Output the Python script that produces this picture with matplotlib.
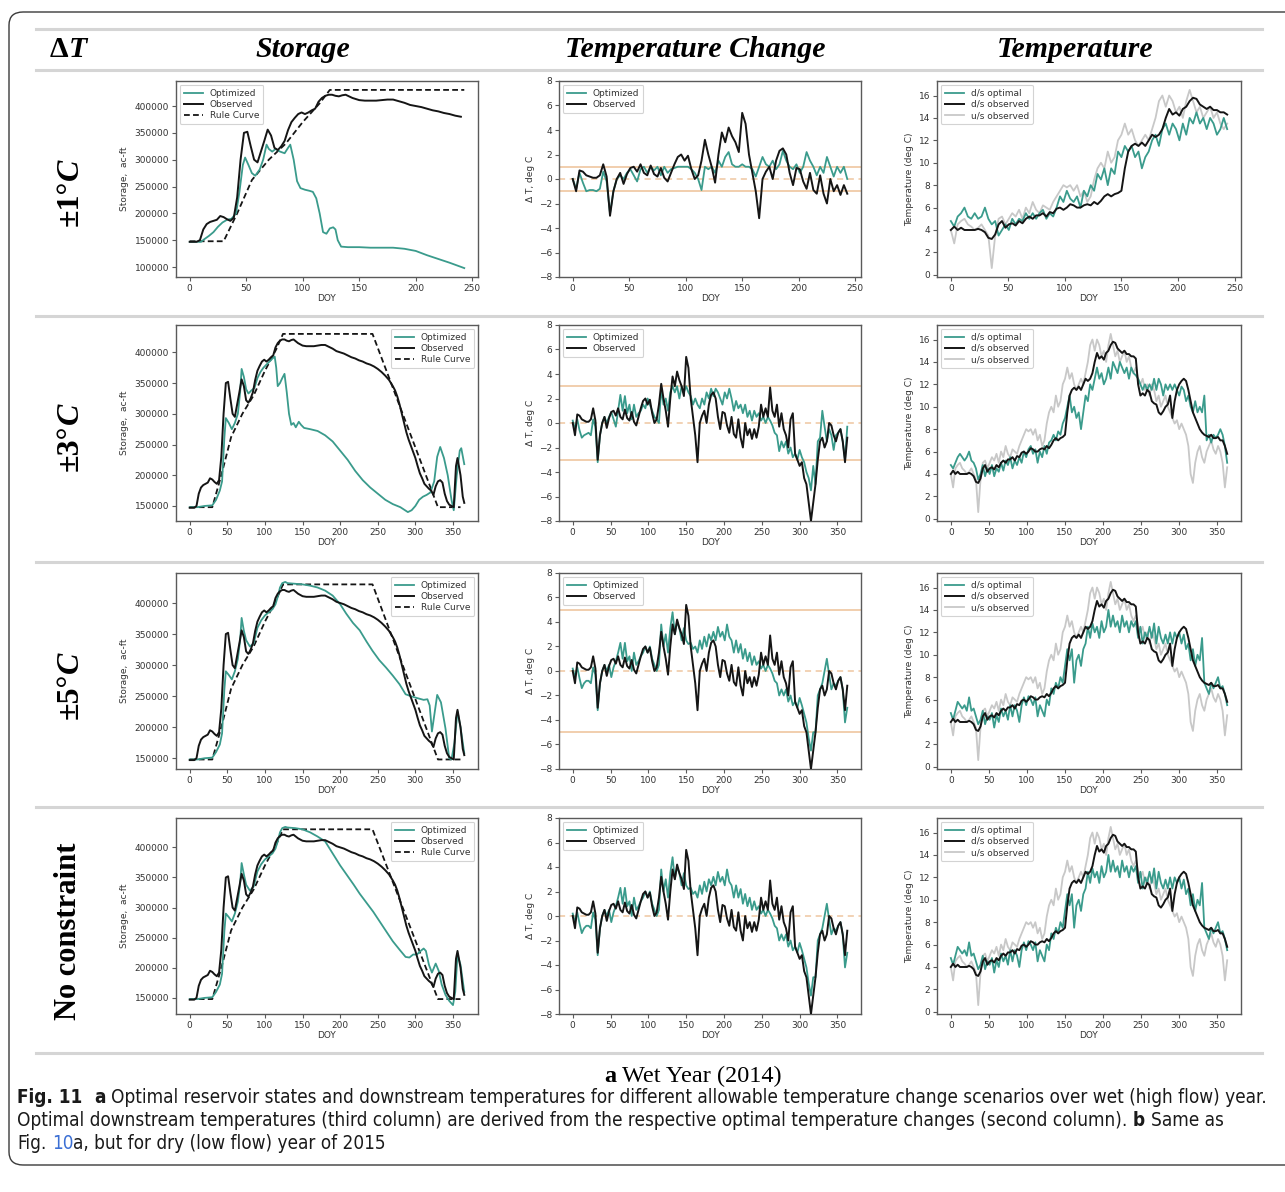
import os
import glob
import numpy as np
import matplotlib
matplotlib.use("Agg")
import matplotlib.pyplot as plt
from matplotlib.lines import Line2D
from matplotlib.patches import FancyBboxPatch
from matplotlib import font_manager as fm

# ============================ DATA ============================
# Noisy daily series are read off the picture every 3rd DOY (index * 3).
dT_observed = [
    0.0, -1.0, 0.7, 0.6, 0.3, 0.2, 0.1, 0.1, 0.3, 1.2,
    0.2, -3.0, -1.0, 0.0, 0.5, -0.4, 0.4, 0.9, 1.0, 0.6,
    1.2, 0.5, 0.3, 1.1, 0.4, 0.2, 0.9, 0.1, -0.2, 0.5,
    1.2, 1.8, 2.0, 1.5, 1.9, 0.8, 0.0, 0.3, 1.5, 3.2,
    2.0, 1.0, -0.3, 2.0, 3.8, 3.0, 4.2, 3.5, 3.0, 2.2,
    5.4, 4.5, 2.0, 0.5, -1.0, -3.2, 0.0, 0.6, 1.0, 0.0,
    1.5, 2.3, 2.5, 2.0, 0.5, -0.5, 0.9, 0.8, -0.2, -0.8,
    0.5, -0.9, -1.2, 0.3, -1.2, -2.0, 0.0, -1.0, -0.5, -1.3,
    -0.5, -1.2, -0.3, 1.5, 0.5, 1.2, 0.5, 2.9, 1.0, 0.5,
    1.5, -0.3, 0.8, -0.5, -1.0, -2.0, 0.3, 0.8, -2.5, -3.0,
    -3.5, -3.2, -4.5, -5.0, -6.5, -8.0, -6.5, -5.0, -3.0, -1.5,
    -1.2, -2.0, -1.5, 0.0, -0.2, -1.0, -1.5, -0.8, -0.5, -1.5,
    -3.2, -1.2]

dT_opt_pm1 = [
    0.0, -0.8, 0.5, -0.3, -1.0, -0.9, -0.9, -1.0, -0.8, 0.6,
    -0.2, -2.8, -1.0, 0.0, 0.3, 0.0, 0.5, 0.8, 0.3, -0.2,
    0.8, 1.0, 0.5, 1.0, 0.7, 1.0, 0.3, 1.0, 0.5, 0.8,
    0.9, 1.0, 1.0, 1.0, 1.0, 0.8, 0.5, 0.0, -0.9, 1.0,
    0.8, 1.0, 0.5, 1.5, 1.0, 1.8, 2.2, 1.2, 1.0, 1.0,
    1.2, 1.0, 1.0, 0.8, 0.2, 1.0, 1.8, 1.2, 1.0, 1.5,
    0.8, 1.2, 2.3, 1.5, 1.0, 0.8, 1.2, 0.5, 1.0, 2.2,
    1.5, 1.0, 0.3, 1.0, 0.5, 1.8, 1.0, 0.2, 1.0, 0.5,
    1.0, 0.0]

dT_opt_pm3 = [
    0.2, -0.5, 0.3, -0.6, -1.2, -1.0, -0.9, -0.8, -1.0, 0.3,
    -0.3, -3.2, -1.0, 0.0, 0.5, 0.0, 0.5, 0.9, 0.3, -0.3,
    1.0, 2.3, 1.0, 2.2, 0.8, 1.5, 0.3, 1.5, 0.5, 0.8,
    1.0, 1.5, 1.2, 2.0, 1.5, 1.0, 0.5, 0.3, 0.0, 2.8,
    1.5, 2.0, 1.0, 2.5, 3.0, 2.5, 3.0, 2.0, 3.0, 2.5,
    3.0, 2.5, 2.2, 1.5, 2.0, 1.5, 1.2, 2.0, 1.5, 2.5,
    2.0, 2.8, 2.2, 2.8, 2.5, 2.0, 1.5, 2.5, 2.0, 2.8,
    2.0, 1.0, 1.8, 1.2, 1.5, 0.8, 1.5, 0.5, 1.0, 0.2,
    1.0, 0.5, 0.8, 0.2, 0.5, 0.0, 0.5, 0.2, -0.2, -0.8,
    -1.0, -2.3, -1.5, -2.0, -1.5, -2.5, -2.0, -2.8, -2.5, -3.0,
    -2.2, -2.8, -3.2, -4.0, -4.5, -5.5, -3.5, -5.0, -1.5, -1.2,
    1.0, -0.3, -1.5, -0.5, -1.0, -2.2, -1.0, -0.8, -0.5, -1.5,
    -3.0, -0.3]

dT_opt_pm5 = [
    0.2, -0.5, 0.3, -0.6, -1.4, -1.0, -0.8, -0.8, -1.0, 0.3,
    -0.3, -3.2, -1.0, 0.0, 0.5, 0.0, 0.5, -0.5, 0.3, 0.8,
    1.5, 2.3, 1.0, 2.3, 0.8, 1.2, 0.0, 1.5, 0.5, 0.8,
    1.2, 1.5, 2.0, 1.5, 2.0, 1.0, 0.5, 0.0, 0.5, 3.8,
    2.0, 3.0, 1.5, 3.5, 4.8, 3.0, 4.0, 3.5, 2.5, 3.5,
    2.5, 2.2, 2.3, 1.8, 2.0, 1.5, 2.5, 1.8, 2.8, 2.0,
    3.0, 2.5, 3.2, 2.5, 3.6, 2.8, 3.2, 2.5, 3.8, 2.8,
    2.5, 1.5, 2.5, 1.5, 2.2, 1.0, 1.8, 0.8, 1.5, 0.5,
    1.2, 0.5, 0.8, 0.2, 0.5, 0.0, 0.5, 0.2, -0.2, -0.8,
    -1.0, -2.0, -1.5, -2.0, -1.5, -2.5, -2.0, -2.8, -2.5, -3.0,
    -2.2, -2.8, -3.5, -4.2, -5.5, -6.5, -5.0, -5.0, -2.0, -1.5,
    -1.0, 0.0, 1.0, -0.3, -1.5, -1.0, -1.2, -0.8, -0.5, -1.5,
    -4.2, -3.0]
dT_opt_none = dT_opt_pm5

T_ds_observed = [
    4.0, 4.3, 4.0, 4.2, 4.0, 4.0, 4.0, 4.0, 4.1, 4.0,
    3.8, 3.3, 3.2, 3.6, 4.5, 4.8, 4.2, 4.5, 4.6, 4.4,
    4.8, 4.6, 5.0, 5.2, 5.0, 5.3, 5.3, 5.5, 5.2, 5.6,
    5.5, 5.9, 6.0, 5.8, 6.0, 6.3, 6.2, 6.0, 6.0, 6.2,
    6.3, 6.2, 6.5, 6.3, 6.6, 7.0, 7.2, 7.0, 7.2, 7.3,
    7.5, 9.5, 11.0, 11.5, 11.7, 11.5, 11.8, 11.5, 12.0, 12.5,
    12.3, 12.5, 13.0, 14.0, 14.8, 14.3, 14.5, 14.2, 14.8, 15.0,
    15.5, 15.8, 15.7, 15.2, 15.0, 14.8, 15.0, 14.7, 14.7, 14.5,
    14.5, 14.3, 12.0, 11.0, 11.2, 11.0, 11.5, 11.3, 10.5, 10.3,
    10.2, 9.5, 9.3, 9.6, 10.0, 10.2, 11.0, 9.0, 10.5, 11.5,
    12.0, 12.3, 12.5, 12.3, 11.5, 10.5, 9.5, 9.0, 8.5, 8.0,
    7.7, 7.5, 7.4, 7.3, 7.5, 7.2, 7.2, 7.3, 7.0, 7.0,
    6.5, 5.8]

T_us_observed = [
    4.0, 2.8, 4.5, 4.8, 5.0, 4.5, 4.3, 4.0, 4.2, 4.5,
    4.0, 3.5, 0.6, 3.5, 5.0, 5.2, 4.5, 5.0, 5.5, 5.2,
    5.8, 5.0, 6.0, 5.5, 6.5, 5.8, 5.5, 6.2, 6.0, 5.8,
    6.5, 7.0, 7.5, 8.0, 7.8, 8.0, 7.5, 8.0, 7.0, 7.5,
    6.5, 7.0, 8.5, 9.5, 10.0, 9.5, 11.0, 10.0, 10.5, 12.0,
    12.5, 13.5, 12.5, 13.0, 12.0, 11.5, 12.0, 12.5, 12.0, 13.0,
    14.0, 15.5, 16.0, 15.0, 16.0, 15.5, 14.5, 15.0, 14.0, 15.5,
    16.5, 15.5, 14.5, 15.0, 14.0, 14.5, 15.0, 14.0, 14.5, 13.5,
    13.0, 13.5, 12.5, 12.0, 12.5, 11.5, 12.0, 11.0, 12.0, 11.5,
    10.5, 11.0, 10.0, 10.5, 11.0, 10.0, 9.5, 9.0, 8.5, 8.8,
    8.0, 8.5, 8.0, 7.5, 6.5, 4.0, 3.2, 5.0, 6.0, 6.5,
    5.5, 5.0, 6.0, 6.5, 7.0, 6.2, 5.8, 6.5, 6.0, 5.0,
    2.8, 4.6]

T_opt_pm1 = [
    4.8, 4.3, 5.2, 5.5, 6.0, 5.2, 5.0, 5.5, 5.0, 5.2,
    6.0, 5.0, 4.5, 4.8, 3.5, 4.0, 4.5, 4.0, 5.0, 4.5,
    5.0, 4.8, 5.5, 5.0, 5.5, 5.0, 5.5, 5.8, 5.0, 5.5,
    5.2, 6.0, 7.0, 6.5, 7.5, 6.8, 6.5, 7.0, 6.0, 7.5,
    7.0, 8.0, 7.5, 9.0, 8.5, 9.5, 8.0, 9.5, 9.0, 11.0,
    10.5, 11.5, 11.0, 11.5, 10.5, 11.0, 9.5, 10.5, 11.0, 12.0,
    12.5, 11.5, 13.0, 13.5, 12.5, 13.5, 13.0, 12.0, 13.5, 12.5,
    14.0, 13.5, 14.5, 13.5, 14.0, 13.0, 14.0, 13.5, 12.5, 13.0,
    14.0, 13.0]

T_opt_pm3 = [
    4.8, 4.5, 5.0, 5.5, 5.8, 5.5, 5.2, 5.5, 6.0, 5.2,
    5.0, 4.5, 3.5, 4.0, 4.8, 3.8, 4.5, 4.0, 4.8, 3.8,
    4.5, 4.2, 5.0, 4.3, 5.2, 4.8, 5.5, 4.5, 5.2, 4.8,
    5.5, 5.0, 6.0, 5.5, 6.2, 6.5, 5.8, 6.2, 5.0, 6.0,
    5.5, 6.5, 5.8, 6.8, 7.0, 7.5, 7.0, 7.8, 7.5, 8.5,
    9.0, 10.0, 11.0, 9.5, 10.0, 9.0, 9.5, 8.0, 9.5, 11.0,
    10.5, 12.0, 11.5, 12.5, 13.5, 12.5, 13.0, 12.0, 12.5, 13.5,
    12.5, 14.0, 13.5, 13.0, 14.0, 13.5, 13.0, 13.5, 12.5, 13.5,
    13.0, 12.8, 12.5, 12.0, 11.5, 12.0, 11.5, 12.0, 11.5, 12.5,
    11.5, 12.5, 12.0, 11.0, 12.0, 11.5, 12.0, 11.5, 12.0, 11.5,
    11.0, 11.8, 11.5, 10.5, 11.0, 10.0, 9.5, 10.5, 9.5, 10.0,
    9.5, 11.0, 7.0, 7.5, 6.8, 7.5, 7.2, 7.5, 8.0, 7.5,
    6.5, 5.0]

T_opt_pm5 = [
    4.8, 4.2, 5.0, 5.8, 5.5, 5.2, 5.5, 5.0, 6.2, 5.0,
    5.2, 4.5, 3.8, 4.2, 5.0, 3.8, 4.5, 4.2, 4.8, 3.5,
    4.6, 4.0, 5.2, 4.5, 5.0, 4.2, 5.5, 4.5, 5.5, 5.0,
    4.0, 5.5, 6.2, 5.5, 6.3, 6.0, 5.5, 6.2, 4.5, 5.5,
    5.0, 4.5, 6.0, 5.5, 7.0, 6.5, 7.5, 7.0, 8.0, 7.5,
    9.0, 10.5, 9.5, 10.5, 7.5, 9.5, 10.0, 9.0, 10.5, 11.0,
    12.5, 11.5, 12.8, 12.0, 12.5, 11.5, 13.0, 12.0, 12.5, 14.0,
    12.5, 13.5, 12.5, 13.0, 12.0, 13.5, 12.5, 13.0, 12.0, 13.0,
    12.5, 13.0, 11.5, 12.5, 11.0, 12.0, 11.5, 12.5, 11.5, 12.8,
    11.0, 12.5, 11.5, 11.0, 11.8, 11.0, 12.0, 11.0, 12.0, 11.5,
    12.0, 11.0, 11.8, 10.5, 11.0, 9.5, 10.5, 9.0, 10.0, 9.5,
    11.5, 7.5, 7.0, 6.5, 7.5, 7.0, 7.5, 8.0, 7.0, 7.2,
    6.5, 5.5]
T_opt_none = T_opt_pm5

# Storage series (smooth): DOY keypoints and values (ac-ft)
stor_obs_doy = [0, 6, 9, 12, 15, 18, 21, 24, 27, 30, 33, 36, 39, 42, 45, 48, 51, 54, 57, 60,
                63, 66, 69, 72, 75, 78, 81, 84, 87, 90, 93, 96, 99, 102, 105, 108, 111, 114, 117, 120,
                123, 126, 129, 132, 135, 138, 141, 144, 147, 150, 155, 160, 165, 170, 175, 180, 185, 190, 195, 200,
                205, 210, 215, 220, 225, 230, 235, 240, 245, 250, 255, 260, 265, 270, 273, 276, 279, 282, 285, 288,
                291, 294, 297, 300, 303, 306, 309, 312, 315, 318, 321, 324, 327, 330, 333, 336, 339, 342, 345, 348,
                351, 354, 356, 360, 363, 365]
stor_obs_val = [147000, 147000, 150000, 170000, 180000, 184000, 186000, 188000, 195000, 193000,
                189000, 186000, 192000, 230000, 300000, 350000, 352000, 325000, 300000, 295000,
                315000, 335000, 356000, 345000, 322000, 318000, 325000, 335000, 355000, 370000,
                378000, 385000, 388000, 385000, 388000, 392000, 395000, 408000, 415000, 419000,
                421000, 421000, 419000, 418000, 420000, 421000, 418000, 415000, 413000, 411000,
                410000, 410000, 410000, 411000, 412000, 412000, 409000, 406000, 402000, 400000,
                398000, 395000, 392000, 390000, 387000, 385000, 382000, 380000, 377000, 373000,
                368000, 362000, 355000, 345000, 338000, 328000, 315000, 300000, 285000, 270000,
                258000, 248000, 238000, 228000, 215000, 203000, 195000, 186000, 182000, 178000,
                175000, 168000, 182000, 190000, 192000, 188000, 170000, 158000, 152000, 150000,
                148000, 215000, 228000, 200000, 165000, 155000]

rule_doy = [0, 30, 42, 55, 70, 85, 100, 115, 124, 243, 330, 360]
rule_val = [148000, 148000, 200000, 262000, 300000, 330000, 370000, 405000, 430000, 430000, 148000, 148000]

stor_opt_pm1_doy = [0, 10, 13, 17, 21, 25, 29, 33, 37, 41, 44, 47, 49, 52, 55, 58, 62, 65, 68, 70,
                    73, 76, 80, 84, 87, 89, 92, 95, 98, 102, 106, 109, 112, 115, 118, 121, 124, 127, 129, 131,
                    134, 140, 150, 160, 170, 180, 190, 200, 210, 220, 230, 243]
stor_opt_pm1_val = [147000, 147000, 152000, 158000, 165000, 175000, 183000, 188000, 190000, 200000,
                    240000, 290000, 304000, 290000, 275000, 270000, 282000, 300000, 328000, 320000,
                    315000, 320000, 315000, 312000, 322000, 328000, 300000, 260000, 247000, 244000,
                    242000, 240000, 228000, 200000, 165000, 162000, 172000, 174000, 170000, 150000,
                    138000, 137000, 137000, 136000, 136000, 136000, 134000, 130000, 122000, 115000,
                    108000, 98000]

stor_opt_pm3_doy = [0, 10, 20, 30, 35, 40, 43, 46, 48, 52, 56, 60, 64, 67, 69, 72, 75, 78, 82, 86,
                    90, 94, 98, 102, 106, 110, 113, 115, 117, 120, 123, 126, 129, 132, 135, 138, 141, 145, 148, 152,
                    160, 170, 180, 190, 200, 210, 220, 230, 240, 250, 260, 270, 280, 290, 295, 300, 305, 310, 315, 320,
                    325, 329, 333, 338, 343, 348, 351, 355, 359, 361, 365]
stor_opt_pm3_val = [148000, 148000, 150000, 151000, 160000, 175000, 190000, 260000, 293000, 285000,
                    275000, 285000, 300000, 335000, 373000, 360000, 340000, 333000, 338000, 342000,
                    358000, 368000, 375000, 380000, 385000, 390000, 393000, 375000, 345000, 350000,
                    358000, 365000, 335000, 300000, 282000, 285000, 278000, 287000, 282000, 277000,
                    275000, 272000, 265000, 255000, 240000, 225000, 207000, 192000, 180000, 170000,
                    160000, 153000, 148000, 140000, 143000, 150000, 160000, 165000, 168000, 172000,
                    190000, 230000, 246000, 228000, 200000, 160000, 143000, 200000, 240000, 244000,
                    218000]

stor_opt_pm5_doy = [0, 10, 20, 30, 35, 40, 43, 46, 48, 52, 56, 60, 64, 67, 69, 72, 75, 80, 85, 90,
                    95, 100, 105, 110, 114, 117, 120, 123, 127, 130, 140, 150, 160, 170, 180, 190, 195, 200, 208, 217,
                    226, 235, 243, 252, 261, 270, 279, 287, 294, 302, 311, 316, 319, 322, 329, 334, 340, 345, 348, 352,
                    356, 360, 365]
stor_opt_pm5_val = [148000, 148000, 150000, 151000, 160000, 172000, 190000, 260000, 290000, 284000,
                    277000, 290000, 310000, 340000, 376000, 355000, 340000, 330000, 335000, 360000,
                    372000, 380000, 385000, 390000, 398000, 410000, 425000, 432000, 434000, 432000,
                    431000, 430000, 428000, 425000, 420000, 412000, 405000, 398000, 383000, 368000,
                    356000, 338000, 323000, 308000, 296000, 283000, 269000, 253000, 250000, 247000,
                    244000, 245000, 235000, 193000, 252000, 240000, 198000, 150000, 148000, 175000,
                    225000, 200000, 158000]

stor_opt_none_doy = [0, 10, 20, 30, 35, 40, 43, 46, 48, 52, 56, 60, 64, 67, 69, 72, 75, 80, 85, 90,
                     95, 100, 105, 110, 114, 117, 120, 123, 127, 130, 140, 150, 160, 170, 180, 191, 200, 209, 218, 226,
                     235, 244, 253, 262, 270, 279, 287, 292, 297, 302, 307, 311, 314, 318, 322, 327, 331, 335, 340, 345,
                     350, 353, 356, 360, 365]
stor_opt_none_val = [148000, 148000, 150000, 151000, 160000, 172000, 190000, 260000, 290000, 284000,
                     277000, 290000, 310000, 340000, 374000, 355000, 338000, 328000, 335000, 360000,
                     372000, 380000, 385000, 390000, 398000, 410000, 425000, 432000, 434000, 433000,
                     432000, 430000, 425000, 418000, 410000, 388000, 370000, 354000, 338000, 323000,
                     308000, 293000, 276000, 259000, 244000, 230000, 218000, 217000, 222000, 222000,
                     228000, 232000, 228000, 205000, 192000, 207000, 195000, 172000, 155000, 145000,
                     138000, 160000, 222000, 205000, 160000]

row_limits = [1, 3, 5, None]          # allowable temperature change (deg C)
row_last_doy = [243, 365, 365, 365]
row_labels = ["±1°", "±3°", "±5°", "No constraint"]
col_titles = ["Storage", "Temperature Change", "Temperature"]
storage_legend = ["Optimized", "Observed", "Rule Curve"]
dT_legend = ["Optimized", "Observed"]
temp_legend = ["d/s optimal", "d/s observed", "u/s observed"]

stor_opt_rows = [(stor_opt_pm1_doy, stor_opt_pm1_val), (stor_opt_pm3_doy, stor_opt_pm3_val),
                 (stor_opt_pm5_doy, stor_opt_pm5_val), (stor_opt_none_doy, stor_opt_none_val)]
dT_opt_rows = [dT_opt_pm1, dT_opt_pm3, dT_opt_pm5, dT_opt_none]
T_opt_rows = [T_opt_pm1, T_opt_pm3, T_opt_pm5, T_opt_none]

# ============================ STYLE ============================
W, H = 1285, 1192
TEAL = "#3a9b8c"
BLK = "#151515"
USG = "#c8c8c8"
CONS = "#efc6a0"
SEP = "#d5d5d5"

plt.rcParams.update({
    "font.family": ["DejaVu Sans"],
    "axes.edgecolor": "#5a5a5a",
    "axes.linewidth": 1.0,
    "xtick.color": "#5a5a5a", "ytick.color": "#5a5a5a",
    "xtick.labelcolor": "#333333", "ytick.labelcolor": "#333333",
    "xtick.labelsize": 6.5, "ytick.labelsize": 6.5,
    "xtick.major.size": 3, "ytick.major.size": 3,
    "axes.labelsize": 6.5, "axes.labelcolor": "#333333",
})

fig = plt.figure(figsize=(W / 100, H / 100), dpi=100)
R = fig.canvas.get_renderer()


def px_axes(x0, y0, x1, y1):
    return fig.add_axes([x0 / W, 1 - y1 / H, (x1 - x0) / W, (y1 - y0) / H])


def hline_px(y, x0=36, x1=1262, color=SEP, lw=2.2):
    fig.add_artist(Line2D([x0 / W, x1 / W], [1 - y / H, 1 - y / H],
                          transform=fig.transFigure, color=color, lw=lw))


def font_ok(name):
    try:
        p = fm.findfont(fm.FontProperties(family=name), fallback_to_default=False)
        return name.split()[0].lower() in os.path.basename(p).lower()
    except Exception:
        return False


def find_font_file(names):
    known = [f.fname for f in fm.fontManager.ttflist]
    for d in ["/usr/share/fonts", "/usr/local/share/fonts", os.path.expanduser("~/.fonts")]:
        known += glob.glob(os.path.join(d, "**", "*.ttf"), recursive=True)
    for n in names:
        for k in known:
            if os.path.basename(k).lower() == n.lower():
                return k
    return None


SERIF = "Liberation Serif" if font_ok("Liberation Serif") else "DejaVu Serif"
narrow_reg = find_font_file(["LiberationSansNarrow-Regular.ttf", "DejaVuSansCondensed.ttf",
                             "RobotoCondensed-Regular.ttf", "OpenSans_Condensed-Regular.ttf"])
narrow_bold = find_font_file(["LiberationSansNarrow-Bold.ttf", "DejaVuSansCondensed-Bold.ttf",
                              "RobotoCondensed-Bold.ttf", "OpenSans_Condensed-Bold.ttf"])


def cap_fp(bold, size):
    f = narrow_bold if bold else narrow_reg
    if f:
        return fm.FontProperties(fname=f, size=size)
    return fm.FontProperties(family="DejaVu Sans", weight="bold" if bold else "normal", size=size)


def tw(t):
    return t.get_window_extent(renderer=R).width


def runs(x, y, parts, base, center=False, measure=False):
    """parts: list of (string, kwargs) or ' ' (space). x,y in px from top-left (baseline)."""
    items = []
    cx = 0.0
    last_kw = {}
    for p in parts:
        if p == " ":
            kw = {**base, **last_kw}
            a = fig.text(0, 0, "a a", **kw); b = fig.text(0, 0, "aa", **kw)
            cx += tw(a) - tw(b)
            a.remove(); b.remove()
            continue
        s, kw = p
        last_kw = kw
        t = fig.text(0, 1 - y / H, s, ha="left", va="baseline", **{**base, **kw})
        items.append((t, cx))
        cx += tw(t)
    if measure:
        for t, _ in items:
            t.remove()
        return cx
    x0 = x - cx / 2 if center else x
    for t, off in items:
        t.set_x((x0 + off) / W)
    return cx


def vruns(xc, ybot, parts, base):
    """Rotated (reading bottom-to-top) runs; xc center x px, ybot bottom y px."""
    y = ybot
    for s, kw in parts:
        t = fig.text(xc / W, 1 - y / H, s, rotation=90, ha="center", va="bottom", **{**base, **kw})
        y -= t.get_window_extent(renderer=R).height


# ============================ FRAME & TITLES ============================
box = FancyBboxPatch((9 / W, 1 - 1165 / H), (1300 - 9) / W, (1165 - 12) / H,
                     boxstyle="round,pad=0,rounding_size=0.011", transform=fig.transFigure,
                     fill=False, ec="#3a3a3a", lw=1.0)
fig.add_artist(box)

for y in [29, 70, 316, 562, 807, 1053]:
    hline_px(y)

hdr = dict(family=SERIF, weight="bold", size=21.5)
runs(50, 57, [("Δ", {}), ("T", {"style": "italic"})], hdr)
for cx, title in zip([303, 695, 1075], col_titles):
    fig.text(cx / W, 1 - 57 / H, title, ha="center", va="baseline", style="italic", **hdr)

lab = dict(family=SERIF, weight="bold", size=23)
row_bottoms = [226, 471, 719]
for yb, lbl in zip(row_bottoms, row_labels[:3]):
    vruns(70, yb, [(lbl, {}), ("C", {"style": "italic"})], lab)
fig.text(68 / W, 1 - 931 / H, row_labels[3], rotation=90, ha="center", va="center",
         family=SERIF, weight="bold", size=22)

# ============================ PANELS ============================
col_x = [(176, 478), (559, 861), (937, 1241)]
row_y = [(81, 277), (325, 521), (573, 769), (818, 1014)]


def style_ax(ax):
    ax.tick_params(direction="out", width=0.8, pad=2)


def leg(ax, loc):
    lg = ax.legend(loc=loc, fontsize=6.5, frameon=True, fancybox=True, framealpha=0.85,
                   edgecolor="#cccccc", handlelength=2.1, borderpad=0.45, labelspacing=0.25,
                   handletextpad=0.8, borderaxespad=0.4)
    lg.get_frame().set_linewidth(0.8)
    for t in lg.get_texts():
        t.set_color("#333333")


for r in range(4):
    last = row_last_doy[r]
    y0, y1 = row_y[r]

    # --- storage ---
    ax = px_axes(col_x[0][0], y0, col_x[0][1], y1)
    od, ov = stor_opt_rows[r]
    ax.plot(od, ov, color=TEAL, lw=1.3, label=storage_legend[0], zorder=3)
    sd = np.array(stor_obs_doy); sv = np.array(stor_obs_val)
    m = sd <= last
    ax.plot(sd[m], sv[m], color=BLK, lw=1.4, label=storage_legend[1], zorder=4)
    rd = np.array(rule_doy); rv = np.array(rule_val)
    m = rd <= last
    ax.plot(rd[m], rv[m], color=BLK, lw=1.3, ls=(0, (3.2, 1.8)), label=storage_legend[2], zorder=2)
    ax.ticklabel_format(axis="y", style="plain", useOffset=False)
    ax.set_xlabel("DOY", labelpad=1)
    ax.set_ylabel("Storage,  ac-ft", labelpad=4)
    style_ax(ax)
    leg(ax, "upper left" if r == 0 else "upper right")

    # --- temperature change ---
    ax = px_axes(col_x[1][0], y0, col_x[1][1], y1)
    lim = row_limits[r]
    if lim is not None:
        ax.axhline(lim, color=CONS, lw=1.2, zorder=1)
        ax.axhline(-lim, color=CONS, lw=1.2, zorder=1)
    ax.axhline(0, color=CONS, lw=1.1, ls=(0, (4, 3)), zorder=1)
    opt = np.array(dT_opt_rows[r])
    ax.plot(np.arange(len(opt)) * 3, opt, color=TEAL, lw=1.3, label=dT_legend[0], zorder=3)
    obs = np.array(dT_observed)
    dd = np.arange(len(obs)) * 3
    m = dd <= last
    ax.plot(dd[m], obs[m], color=BLK, lw=1.4, label=dT_legend[1], zorder=4)
    ax.set_ylim(-8, 8)
    ax.set_xlabel("DOY", labelpad=1)
    ax.set_ylabel("Δ T, deg C", labelpad=3)
    style_ax(ax)
    leg(ax, "upper left")

    # --- temperature ---
    ax = px_axes(col_x[2][0], y0, col_x[2][1], y1)
    opt = np.array(T_opt_rows[r])
    ax.plot(np.arange(len(opt)) * 3, opt, color=TEAL, lw=1.3, label=temp_legend[0], zorder=3)
    ds = np.array(T_ds_observed)
    us = np.array(T_us_observed)
    dd = np.arange(len(ds)) * 3
    m = dd <= last
    ax.plot(dd[m], ds[m], color=BLK, lw=1.4, label=temp_legend[1], zorder=4)
    ax.plot(dd[m], us[m], color=USG, lw=1.3, label=temp_legend[2], zorder=2)
    ax.set_xlabel("DOY", labelpad=1)
    ax.set_ylabel("Temperature (deg C)", labelpad=3)
    style_ax(ax)
    leg(ax, "upper left")

# ============================ CAPTIONS ============================
runs(693, 1082, [("a", {"weight": "bold"}), " ", ("Wet Year (2014)", {})],
     dict(family=SERIF, size=17.5), center=True)


def caption_lines(size):
    B = {"fontproperties": cap_fp(True, size)}
    N = {"fontproperties": cap_fp(False, size)}
    l1 = [("Fig. 11", B), " ", " ", ("a", B), " ",
          ("Optimal reservoir states and downstream temperatures for different allowable temperature "
           "change scenarios over wet (high flow) year.", N)]
    l2 = [("Optimal downstream temperatures (third column) are derived from the respective optimal "
           "temperature changes (second column).", N), " ", ("b", B), " ", ("Same as", N)]
    l3 = [("Fig.", N), " ", ("10", {**N, "color": "#3b6fd4"}), ("a, but for dry (low flow) year of 2015", N)]
    return l1, l2, l3


cap_base = dict(color="#1a1a1a")
w10 = runs(17, 1103, caption_lines(10)[0], cap_base, measure=True)
cap_size = 10 * 1253 / w10
l1, l2, l3 = caption_lines(cap_size)
runs(17, 1103, l1, cap_base)
runs(17, 1126, l2, cap_base)
runs(17, 1149, l3, cap_base)

fig.savefig("out.png", dpi=100)
